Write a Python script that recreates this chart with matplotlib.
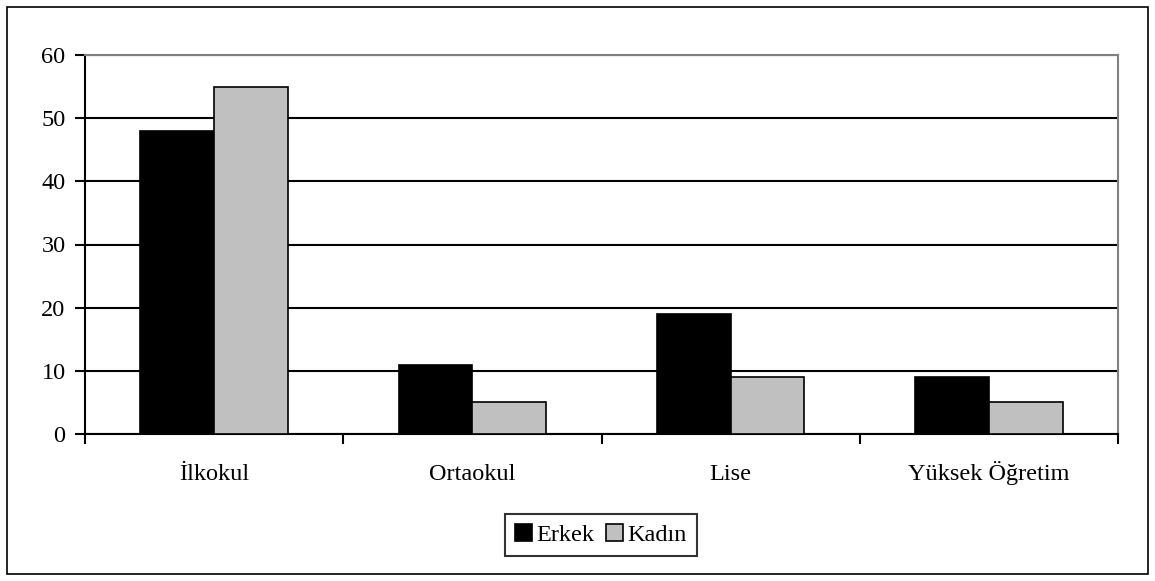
import matplotlib
matplotlib.use("Agg")
import matplotlib.pyplot as plt
import numpy as np
from matplotlib.patches import Rectangle

categories = ["İlkokul", "Ortaokul", "Lise", "Yüksek Öğretim"]
erkek = [48, 11, 19, 9]
kadin = [55, 5, 9, 5]
series_names = ["Erkek", "Kadın"]
yticks = [0, 10, 20, 30, 40, 50, 60]

plt.rcParams['font.family'] = ['Liberation Serif', 'DejaVu Serif']

W, H = 1155, 581
fig = plt.figure(figsize=(W / 100, H / 100), dpi=100)
fig.patches.append(Rectangle((7 / W, 7 / H), (1148 - 7) / W, (574 - 7) / H,
                             transform=fig.transFigure, fill=False,
                             edgecolor='black', linewidth=1.2, zorder=0))

ax = fig.add_axes([85 / W, 1 - 434 / H, (1118 - 85) / W, (434 - 55) / H])

x = np.arange(len(categories))
bw = 1 / 3.5
ax.bar(x - bw / 2, erkek, width=bw, color='black', edgecolor='black',
       linewidth=1.2, label=series_names[0], zorder=3)
ax.bar(x + bw / 2, kadin, width=bw, color='#c0c0c0', edgecolor='black',
       linewidth=1.2, label=series_names[1], zorder=3)

ax.set_xlim(-0.5, len(categories) - 0.5)
ax.set_ylim(0, 60)
ax.set_yticks(yticks)
ax.set_yticklabels([str(v) for v in yticks], fontsize=17.5)
ax.yaxis.grid(True, color='black', linewidth=1.5, zorder=1)
ax.set_axisbelow(True)

ax.set_xticks(np.arange(len(categories) + 1) - 0.5)
ax.set_xticklabels([])
ax.set_xticks(x, minor=True)
ax.set_xticklabels(categories, minor=True, fontsize=17.5, va='baseline')
ax.tick_params(axis='x', which='minor', length=0, pad=33)
ax.tick_params(axis='x', which='major', length=7, width=1.5, direction='out')
ax.tick_params(axis='y', length=7, width=1.5, direction='out', pad=7)

for s in ['left', 'bottom']:
    ax.spines[s].set_color('black')
    ax.spines[s].set_linewidth(1.5)
for s in ['top', 'right']:
    ax.spines[s].set_color('#808080')
    ax.spines[s].set_linewidth(1.5)

leg = fig.legend(loc='center', bbox_to_anchor=(601 / W, 1 - 535 / H),
                 ncol=2, fontsize=17.5, frameon=True, fancybox=False,
                 handlelength=0.7, handleheight=0.7, handletextpad=0.17,
                 columnspacing=0.5, borderpad=0.4, borderaxespad=0,
                 edgecolor='black')
leg.get_frame().set_linewidth(1.5)

fig.savefig("out.png", dpi=100)
